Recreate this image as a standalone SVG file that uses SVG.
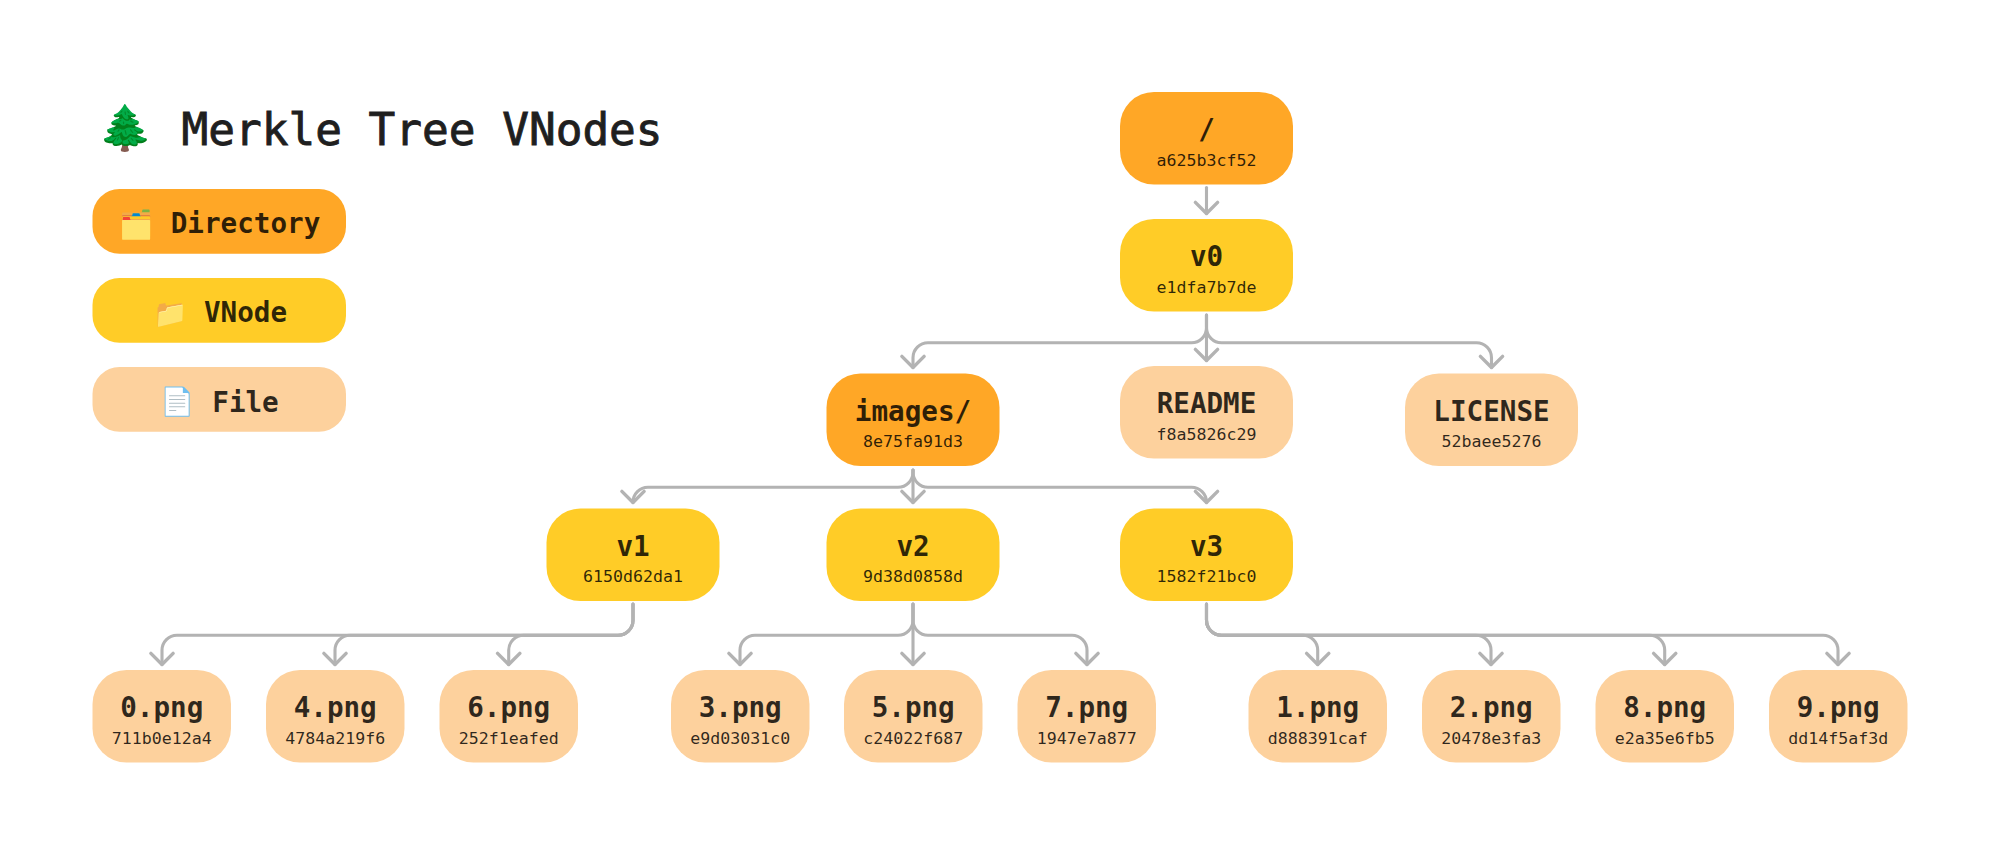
<svg xmlns="http://www.w3.org/2000/svg" width="2000" height="855" viewBox="0 0 2000 855">
<style>
text{font-family:"DejaVu Sans Mono","Liberation Mono",monospace;fill:#000;fill-opacity:.82}
.e{font-family:"Noto Color Emoji","Noto Sans",sans-serif;fill-opacity:1}
.t{font-size:44.4px;fill:#1f1f1f;fill-opacity:1;stroke:#1f1f1f;stroke-width:.9}
.l{font-size:27.6px;font-weight:700;text-anchor:middle}
.h{font-size:16.6px;text-anchor:middle}
.d{fill:#ffa726}.v{fill:#ffcc27}.f{fill:#fdd19d}
#connectors path{fill:none;stroke:#b3b3b3;stroke-width:3.1;stroke-linecap:round;stroke-linejoin:round;marker-end:url(#a)}
</style>
<defs><marker id="a" markerUnits="userSpaceOnUse" markerWidth="26" markerHeight="20" refX="11" refY="14" orient="auto-start-reverse" viewBox="0 0 22 18" overflow="visible"><path d="M1 4 11 14 21 4" transform="rotate(-90 11 14)" fill="none" stroke="#b3b3b3" stroke-width="3.1" stroke-linecap="round" stroke-linejoin="round"/></marker></defs>
<g id="title"><text class="e" x="98" y="143" font-size="44">🌲</text><text class="t" x="181.5" y="145">Merkle Tree VNodes</text></g>
<g id="legend-directory"><rect class="d" x="92.5" y="189" width="253.5" height="64.7" rx="27"/><text class="e" x="119.8" y="233.5" font-size="27.5">🗂️</text><text class="l" x="245.5" y="232.7">Directory</text></g>
<g id="legend-vnode"><rect class="v" x="92.5" y="278" width="253.5" height="64.7" rx="27"/><text class="e" x="153.3" y="322.5" font-size="27.5">📁</text><text class="l" x="245.5" y="321.7">VNode</text></g>
<g id="legend-file"><rect class="f" x="92.5" y="367" width="253.5" height="64.7" rx="27"/><text class="e" x="160.8" y="411" font-size="27.5">📄</text><text class="l" x="245.5" y="411.7">File</text></g>
<g id="connectors">
<path d="M1206.5 187.5V213.5"/>
<path d="M1206.5 315V360.5"/>
<path d="M1206.5 315V327.7A15 15 0 0 1 1191.5 342.7H928A15 15 0 0 0 913 357.7V367.5"/>
<path d="M1206.5 315V327.7A15 15 0 0 0 1221.5 342.7H1476.5A15 15 0 0 1 1491.5 357.7V367.5"/>
<path d="M913 470V502.5"/>
<path d="M913 470V472.3A15 15 0 0 1 898 487.3H648A15 15 0 0 0 633 502.3V502.5"/>
<path d="M913 470V472.3A15 15 0 0 0 928 487.3H1191.5A15 15 0 0 1 1206.5 502.3V502.5"/>
<path d="M633 604V620.3A15 15 0 0 1 618 635.3H177A15 15 0 0 0 162 650.3V664.5"/>
<path d="M633 604V620.3A15 15 0 0 1 618 635.3H350A15 15 0 0 0 335 650.3V664.5"/>
<path d="M633 604V620.3A15 15 0 0 1 618 635.3H523.7A15 15 0 0 0 508.7 650.3V664.5"/>
<path d="M913 604V664.5"/>
<path d="M913 604V620.3A15 15 0 0 1 898 635.3H755A15 15 0 0 0 740 650.3V664.5"/>
<path d="M913 604V620.3A15 15 0 0 0 928 635.3H1072A15 15 0 0 1 1087 650.3V664.5"/>
<path d="M1206.5 604V620.3A15 15 0 0 0 1221.5 635.3H1302.7A15 15 0 0 1 1317.7 650.3V664.5"/>
<path d="M1206.5 604V620.3A15 15 0 0 0 1221.5 635.3H1476A15 15 0 0 1 1491 650.3V664.5"/>
<path d="M1206.5 604V620.3A15 15 0 0 0 1221.5 635.3H1649.7A15 15 0 0 1 1664.7 650.3V664.5"/>
<path d="M1206.5 604V620.3A15 15 0 0 0 1221.5 635.3H1823A15 15 0 0 1 1838 650.3V664.5"/>
</g>
<g id="n-root"><rect class="d" x="1120" y="92" width="173" height="92.5" rx="34"/><text class="l" x="1206.5" y="139">/</text><text class="h" x="1206.5" y="165.5">a625b3cf52</text></g>
<g id="n-v0"><rect class="v" x="1120" y="219" width="173" height="92.5" rx="34"/><text class="l" x="1206.5" y="266">v0</text><text class="h" x="1206.5" y="292.5">e1dfa7b7de</text></g>
<g id="n-images"><rect class="d" x="826.5" y="373.5" width="173" height="92.5" rx="34"/><text class="l" x="913" y="420.5">images/</text><text class="h" x="913" y="447">8e75fa91d3</text></g>
<g id="n-readme"><rect class="f" x="1120" y="366" width="173" height="92.5" rx="34"/><text class="l" x="1206.5" y="413">README</text><text class="h" x="1206.5" y="439.5">f8a5826c29</text></g>
<g id="n-license"><rect class="f" x="1405" y="373.5" width="173" height="92.5" rx="34"/><text class="l" x="1491.5" y="420.5">LICENSE</text><text class="h" x="1491.5" y="447">52baee5276</text></g>
<g id="n-v1"><rect class="v" x="546.5" y="508.5" width="173" height="92.5" rx="34"/><text class="l" x="633" y="555.5">v1</text><text class="h" x="633" y="582">6150d62da1</text></g>
<g id="n-v2"><rect class="v" x="826.5" y="508.5" width="173" height="92.5" rx="34"/><text class="l" x="913" y="555.5">v2</text><text class="h" x="913" y="582">9d38d0858d</text></g>
<g id="n-v3"><rect class="v" x="1120" y="508.5" width="173" height="92.5" rx="34"/><text class="l" x="1206.5" y="555.5">v3</text><text class="h" x="1206.5" y="582">1582f21bc0</text></g>
<g id="n-0"><rect class="f" x="92.5" y="670" width="138.5" height="92.5" rx="34"/><text class="l" x="161.8" y="717">0.png</text><text class="h" x="161.8" y="743.5">711b0e12a4</text></g>
<g id="n-4"><rect class="f" x="266" y="670" width="138.5" height="92.5" rx="34"/><text class="l" x="335.2" y="717">4.png</text><text class="h" x="335.2" y="743.5">4784a219f6</text></g>
<g id="n-6"><rect class="f" x="439.5" y="670" width="138.5" height="92.5" rx="34"/><text class="l" x="508.7" y="717">6.png</text><text class="h" x="508.7" y="743.5">252f1eafed</text></g>
<g id="n-3"><rect class="f" x="671" y="670" width="138.5" height="92.5" rx="34"/><text class="l" x="740.2" y="717">3.png</text><text class="h" x="740.2" y="743.5">e9d03031c0</text></g>
<g id="n-5"><rect class="f" x="844" y="670" width="138.5" height="92.5" rx="34"/><text class="l" x="913.2" y="717">5.png</text><text class="h" x="913.2" y="743.5">c24022f687</text></g>
<g id="n-7"><rect class="f" x="1017.5" y="670" width="138.5" height="92.5" rx="34"/><text class="l" x="1086.7" y="717">7.png</text><text class="h" x="1086.7" y="743.5">1947e7a877</text></g>
<g id="n-1"><rect class="f" x="1248.5" y="670" width="138.5" height="92.5" rx="34"/><text class="l" x="1317.7" y="717">1.png</text><text class="h" x="1317.7" y="743.5">d888391caf</text></g>
<g id="n-2"><rect class="f" x="1422" y="670" width="138.5" height="92.5" rx="34"/><text class="l" x="1491.2" y="717">2.png</text><text class="h" x="1491.2" y="743.5">20478e3fa3</text></g>
<g id="n-8"><rect class="f" x="1595.5" y="670" width="138.5" height="92.5" rx="34"/><text class="l" x="1664.7" y="717">8.png</text><text class="h" x="1664.7" y="743.5">e2a35e6fb5</text></g>
<g id="n-9"><rect class="f" x="1769" y="670" width="138.5" height="92.5" rx="34"/><text class="l" x="1838.2" y="717">9.png</text><text class="h" x="1838.2" y="743.5">dd14f5af3d</text></g>
</svg>
